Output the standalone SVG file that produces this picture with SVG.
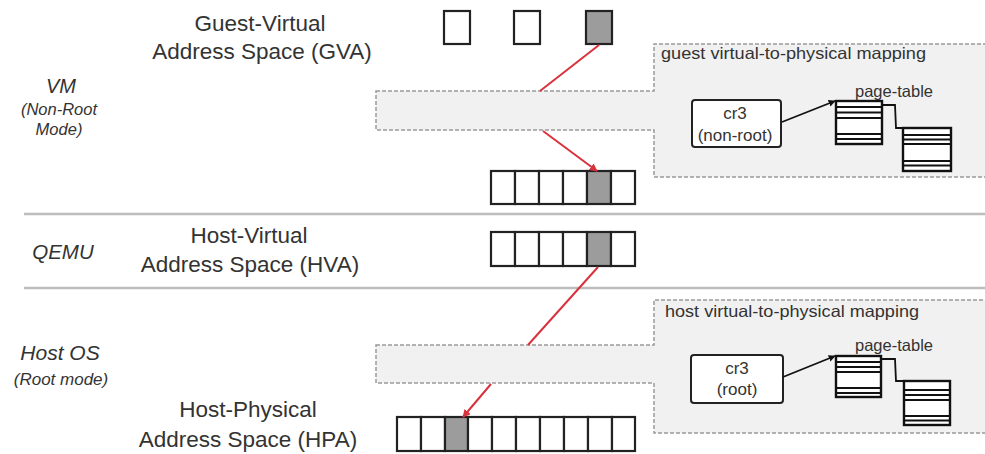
<svg xmlns="http://www.w3.org/2000/svg" width="985" height="454" viewBox="0 0 985 454">
  <defs>
    <marker id="redHead" viewBox="0 0 10 10" refX="9" refY="5" markerWidth="8" markerHeight="8" markerUnits="userSpaceOnUse" orient="auto">
      <path d="M0,0 L10,5 L0,10 Z" fill="#d8323c"/>
    </marker>
    <marker id="blackHead" viewBox="0 0 10 10" refX="9" refY="5" markerWidth="7" markerHeight="7" markerUnits="userSpaceOnUse" orient="auto">
      <path d="M0,0 L10,5 L0,10 Z" fill="#111"/>
    </marker>
    <style>
      .lbl { font-family: "Liberation Sans", Arial, sans-serif; fill: #333; text-anchor: middle; }
      .big { font-size: 22.5px; }
      .side { font-style: italic; }
      .small { font-family: "Liberation Sans", Arial, sans-serif; fill: #333; font-size: 16.5px; }
      .sep { stroke: #bdbdbd; stroke-width: 2.5; fill: none; }
      .map { fill: #f1f1f1; stroke: #9a9a9a; stroke-width: 1.5; stroke-dasharray: 4 2; }
      .cell { fill: #fff; stroke: #222; stroke-width: 2.2; }
      .hit { fill: #9c9c9c; }
      .reg { fill: #fff; stroke: #222; stroke-width: 2; }
      .pt { fill: #fff; stroke: #111; stroke-width: 2.4; }
      .row { stroke: #111; stroke-width: 2; }
      .red { stroke: #d8323c; stroke-width: 2; fill: none; }
      .blk { stroke: #111; stroke-width: 1.8; fill: none; }
    </style>
  </defs>

  <rect width="985" height="454" fill="#fff"/>

  <!-- layer separators -->
  <line class="sep" x1="24" y1="214" x2="985" y2="214"/>
  <line class="sep" x1="24" y1="288" x2="985" y2="288"/>

  <!-- layer names -->
  <g id="layer-vm">
    <text class="lbl side" x="61" y="93" font-size="20">VM</text>
    <text class="lbl side" x="59" y="115" font-size="16.5">(Non-Root</text>
    <text class="lbl side" x="59" y="135" font-size="16.5">Mode)</text>
  </g>
  <g id="layer-qemu">
    <text class="lbl side" x="63" y="259" font-size="20.5">QEMU</text>
  </g>
  <g id="layer-host">
    <text class="lbl side" x="60" y="360" font-size="21">Host OS</text>
    <text class="lbl side" x="61" y="385" font-size="17">(Root mode)</text>
  </g>

  <!-- address space titles -->
  <g id="title-gva">
    <text class="lbl big" x="260" y="31">Guest-Virtual</text>
    <text class="lbl big" x="262" y="59">Address Space (GVA)</text>
  </g>
  <g id="title-hva">
    <text class="lbl big" x="249" y="243">Host-Virtual</text>
    <text class="lbl big" x="250" y="272">Address Space (HVA)</text>
  </g>
  <g id="title-hpa">
    <text class="lbl big" x="248" y="417">Host-Physical</text>
    <text class="lbl big" x="248" y="447">Address Space (HPA)</text>
  </g>

  <!-- guest virtual pages -->
  <g id="gva-pages">
    <rect class="cell" x="444" y="11" width="26" height="33"/>
    <rect class="cell" x="514" y="11" width="26" height="33"/>
    <rect class="cell hit" x="586" y="11" width="26" height="33"/>
  </g>

  <!-- guest mapping region (runs off the right edge) -->
  <g id="guest-mapping">
    <path class="map" d="M376,91 H654 V44 H988 V177 H654 V130 H376 Z"/>
    <text class="small" x="661" y="59" textLength="265" lengthAdjust="spacingAndGlyphs">guest  virtual-to-physical  mapping</text>
  </g>
  <g id="guest-cr3">
    <rect class="reg" x="692" y="100" width="89" height="47" rx="3"/>
    <text class="lbl" x="735" y="119" font-size="17">cr3</text>
    <text class="lbl" x="735" y="141" font-size="17">(non-root)</text>
  </g>
  <g id="guest-pt">
    <rect class="pt" x="836" y="101" width="46" height="43"/>
    <line class="row" x1="836" y1="107" x2="882" y2="107"/>
    <line class="row" x1="836" y1="112.5" x2="882" y2="112.5"/>
    <line class="row" x1="836" y1="118" x2="882" y2="118"/>
    <line class="row" x1="836" y1="134" x2="882" y2="134"/>
    <line class="row" x1="836" y1="139" x2="882" y2="139"/>
    <rect class="pt" x="903" y="128" width="48" height="43"/>
    <line class="row" x1="903" y1="135" x2="951" y2="135"/>
    <line class="row" x1="903" y1="139.5" x2="951" y2="139.5"/>
    <line class="row" x1="903" y1="144" x2="951" y2="144"/>
    <line class="row" x1="903" y1="161" x2="951" y2="161"/>
    <line class="row" x1="903" y1="165.5" x2="951" y2="165.5"/>
    <text class="small" x="855" y="97">page-table</text>
  </g>

  <!-- guest physical pages -->
  <g id="gpa-pages">
    <rect class="cell" x="491" y="171" width="24" height="33"/>
    <rect class="cell" x="515" y="171" width="24" height="33"/>
    <rect class="cell" x="539" y="171" width="24" height="33"/>
    <rect class="cell" x="563" y="171" width="24" height="33"/>
    <rect class="cell hit" x="587" y="171" width="24" height="33"/>
    <rect class="cell" x="611" y="171" width="24" height="33"/>
  </g>

  <!-- host virtual pages -->
  <g id="hva-pages">
    <rect class="cell" x="491" y="232" width="24" height="34"/>
    <rect class="cell" x="515" y="232" width="24" height="34"/>
    <rect class="cell" x="539" y="232" width="24" height="34"/>
    <rect class="cell" x="563" y="232" width="24" height="34"/>
    <rect class="cell hit" x="587" y="232" width="24" height="34"/>
    <rect class="cell" x="611" y="232" width="24" height="34"/>
  </g>

  <!-- host mapping region (runs off the right edge) -->
  <g id="host-mapping">
    <path class="map" d="M376,345 H654 V300 H988 V433 H654 V383 H376 Z"/>
    <text class="small" x="665" y="317" textLength="254" lengthAdjust="spacingAndGlyphs">host  virtual-to-physical  mapping</text>
  </g>
  <g id="host-cr3">
    <rect class="reg" x="691" y="355" width="92" height="48" rx="3"/>
    <text class="lbl" x="737" y="374" font-size="17">cr3</text>
    <text class="lbl" x="737" y="395" font-size="17">(root)</text>
  </g>
  <g id="host-pt">
    <rect class="pt" x="836" y="356" width="45" height="41"/>
    <line class="row" x1="836" y1="362" x2="881" y2="362"/>
    <line class="row" x1="836" y1="367" x2="881" y2="367"/>
    <line class="row" x1="836" y1="372" x2="881" y2="372"/>
    <line class="row" x1="836" y1="388" x2="881" y2="388"/>
    <line class="row" x1="836" y1="393" x2="881" y2="393"/>
    <rect class="pt" x="904" y="381" width="46" height="44"/>
    <line class="row" x1="904" y1="390" x2="950" y2="390"/>
    <line class="row" x1="904" y1="395" x2="950" y2="395"/>
    <line class="row" x1="904" y1="400" x2="950" y2="400"/>
    <line class="row" x1="904" y1="416" x2="950" y2="416"/>
    <line class="row" x1="904" y1="420.5" x2="950" y2="420.5"/>
    <text class="small" x="855" y="351">page-table</text>
  </g>

  <!-- host physical pages -->
  <g id="hpa-pages">
    <rect class="cell" x="397" y="417" width="24" height="34"/>
    <rect class="cell" x="421" y="417" width="24" height="34"/>
    <rect class="cell hit" x="445" y="417" width="23" height="34"/>
    <rect class="cell" x="468" y="417" width="24" height="34"/>
    <rect class="cell" x="492" y="417" width="24" height="34"/>
    <rect class="cell" x="516" y="417" width="24" height="34"/>
    <rect class="cell" x="540" y="417" width="24" height="34"/>
    <rect class="cell" x="564" y="417" width="24" height="34"/>
    <rect class="cell" x="588" y="417" width="24" height="34"/>
    <rect class="cell" x="612" y="417" width="23" height="34"/>
  </g>

  <!-- connectors -->
  <g id="connectors">
    <!-- GVA -> GPA, passing behind the guest mapping band -->
    <line class="red" x1="599" y1="45" x2="540" y2="91"/>
    <line class="red" x1="543" y1="131" x2="597" y2="171" marker-end="url(#redHead)"/>
    <!-- HVA -> HPA, passing behind the host mapping band -->
    <line class="red" x1="598" y1="267" x2="528" y2="345"/>
    <line class="red" x1="491" y1="384" x2="463" y2="417" marker-end="url(#redHead)"/>
    <!-- cr3 -> page tables -->
    <line class="blk" x1="782" y1="122" x2="835" y2="101" marker-end="url(#blackHead)"/>
    <polyline class="blk" points="882,105 895,105 896,128 903,128"/>
    <line class="blk" x1="783" y1="377" x2="835" y2="356" marker-end="url(#blackHead)"/>
    <polyline class="blk" points="881,359 895,359 896,381 904,381"/>
  </g>
</svg>
